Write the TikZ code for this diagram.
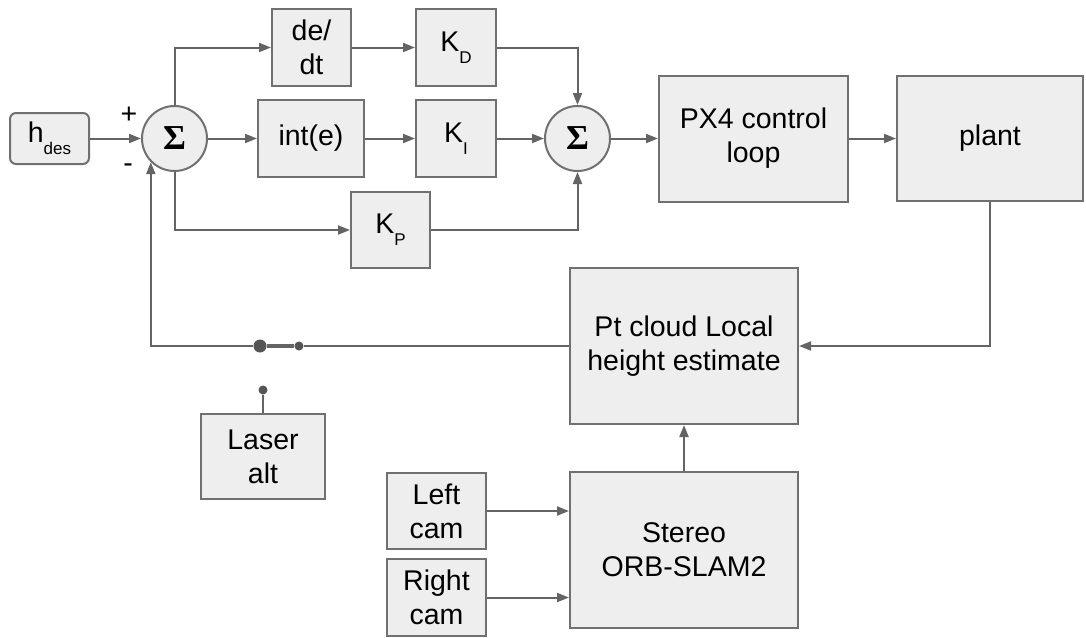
\documentclass[tikz,border=0pt]{standalone}
\usepackage{fontspec}
\setmainfont{Liberation Sans}
\newfontfamily\sigmafont{Liberation Serif}
\usetikzlibrary{arrows.meta}
\definecolor{boxfill}{RGB}{238,238,238}
\definecolor{edgegray}{RGB}{112,112,112}
\definecolor{wiregray}{RGB}{100,100,100}
\definecolor{dotgray}{RGB}{85,85,85}
\newcommand{\gainsub}[2]{#1\raisebox{-12pt}{\fontsize{17}{17}\selectfont #2}}
\newcommand{\sumsign}{{\sigmafont\bfseries\fontsize{35}{35}\selectfont Σ}}
\tikzset{
  wire/.style={draw=wiregray,line width=2pt},
  flow/.style={wire,-{Triangle[length=12pt,width=9pt]}},
  block/.style={draw=edgegray,line width=2pt,fill=boxfill,align=center,
                inner sep=0pt,font=\fontsize{28.5}{34}\selectfont},
  summer/.style={block,circle,minimum size=65pt},
  input/.style={block,rounded corners=6pt},
  contact/.style={circle,fill=dotgray,inner sep=0pt,minimum size=9pt},
  pivot/.style={contact,minimum size=13pt},
  sign/.style={font=\fontsize{28.5}{34}\selectfont},
}
\begin{document}
\begin{tikzpicture}[x=1pt,y=-1pt]
  \path[use as bounding box] (0,0) rectangle (1086,637);

  % reference input and first summing junction
  \node[input,minimum width=79pt,minimum height=51pt] (hdes) at (49.5,138.5) {\gainsub{h}{des}};
  \node[summer] (sumA) at (174.5,138.5) {\sumsign};
  \node[sign] (plus) at (129,115) {+};
  \node[sign] (minus) at (128,168) {-};

  % PID branches
  \node[block,minimum width=79pt,minimum height=77pt] (deriv) at (311.5,47.5) {de/\\dt};
  \node[block,minimum width=80pt,minimum height=77pt] (kd) at (456,47.5) {\gainsub{K}{D}};
  \node[block,minimum width=106pt,minimum height=77pt] (integ) at (311,138.5) {int(e)};
  \node[block,minimum width=80pt,minimum height=77pt] (ki) at (456,138.5) {\gainsub{K}{I}};
  \node[block,minimum width=79pt,minimum height=76pt] (kp) at (390.5,230) {\gainsub{K}{P}};
  \node[summer] (sumB) at (577.5,138.5) {\sumsign};

  % vehicle
  \node[block,minimum width=189pt,minimum height=126pt] (px4) at (753.5,138.5) {PX4 control\\loop};
  \node[block,minimum width=186pt,minimum height=125pt] (plant) at (990,138.5) {plant};

  % height estimation
  \node[block,minimum width=228pt,minimum height=156pt] (ptcloud) at (684,346) {Pt cloud Local\\height estimate};
  \node[block,minimum width=228pt,minimum height=156pt] (stereo) at (684,550) {Stereo\\ORB-SLAM2};
  \node[block,minimum width=99pt,minimum height=76pt] (leftcam) at (436.5,511) {Left\\cam};
  \node[block,minimum width=99pt,minimum height=77pt] (rightcam) at (436.5,597.5) {Right\\cam};
  \node[block,minimum width=124pt,minimum height=85pt] (laser) at (263,456.5) {Laser\\alt};

  % switch
  \node[pivot] (swA) at (260,346) {};
  \node[contact] (swB) at (299,346) {};
  \node[contact] (swC) at (263,390) {};

  \draw[flow] (hdes.east) -- (sumA.west);
  \draw[flow] (sumA.north) |- (deriv.west);
  \draw[flow] (deriv) -- (kd);
  \draw[flow] (sumA) -- (integ);
  \draw[flow] (integ) -- (ki);
  \draw[flow] (sumA.south) |- (kp.west);
  \draw[flow] (kd.east) -| (sumB.north);
  \draw[flow] (ki) -- (sumB);
  \draw[flow] (kp.east) -| (sumB.south);
  \draw[flow] (sumB) -- (px4);
  \draw[flow] (px4) -- (plant);
  \draw[flow] (plant.south) |- (ptcloud.east);
  \draw[flow] (stereo.north) -- (ptcloud.south);
  \draw[flow] (leftcam.east) -- (leftcam.east -| stereo.west);
  \draw[flow] (rightcam.east) -- (rightcam.east -| stereo.west);

  \draw[wire] (ptcloud.west) -- (swB);
  \draw[wire,line width=3.5pt] (swB) -- (swA);
  \draw[flow] (swA) -| (sumA.south west);
  \draw[wire] (laser.north) -- (swC);
\end{tikzpicture}
\end{document}
